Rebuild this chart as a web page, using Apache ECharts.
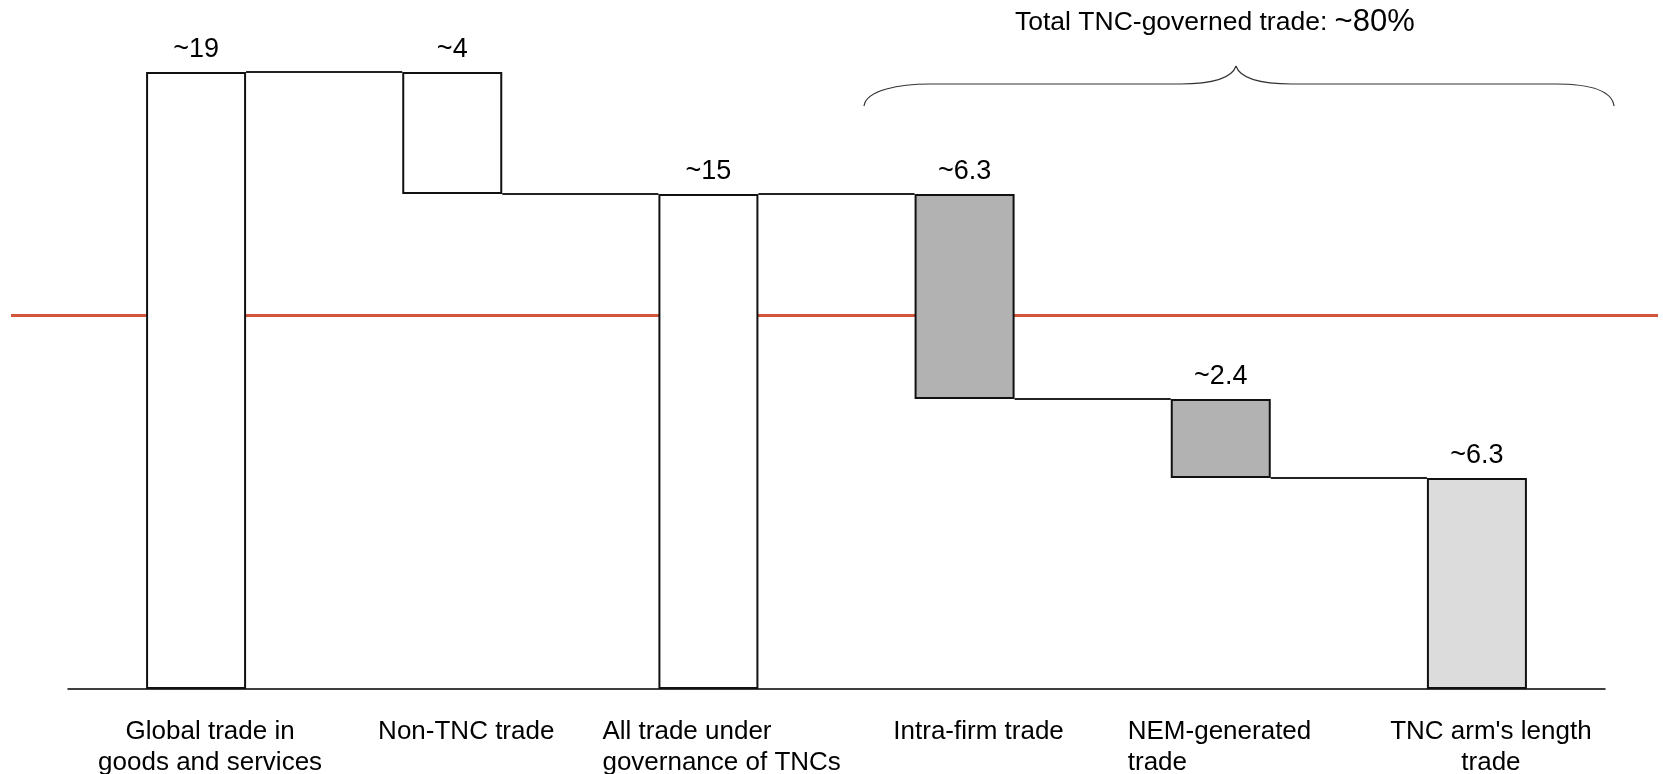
<!DOCTYPE html>
<html>
<head>
    <meta charset="UTF-8">
    <script src="https://cdn.jsdelivr.net/npm/echarts@6/dist/echarts.min.js"></script>
</head>
<style type="text/css">
    html, body { height: 100%; width: 100%; margin: 0; padding: 0; background: #fff; }
    #main { height: 100%; }
</style>
<body>
    <div id="main"></div>
</body>
<script>
    // categories and bar data (bar heights, labels as printed)
    var categories = ['Global trade in\ngoods and services', 'Non-TNC trade', 'All trade under\ngovernance of TNCs',
        'Intra-firm trade', 'NEM-generated\ntrade', "TNC arm's length\ntrade"];
    var barValues = [19, 3.76, 15.24, 6.31, 2.43, 6.5];
    var barBases = [0, 15.24, 0, 8.93, 6.5, 0];
    var barLabels = ['~19', '~4', '~15', '~6.3', '~2.4', '~6.3'];
    var barColors = ['#ffffff', '#ffffff', '#ffffff', '#b2b2b2', '#b2b2b2', '#dcdcdc'];
    var refLevel = 11.5;

    var myChart = echarts.init(document.getElementById('main'));
    var font = 'Liberation Sans, Arial, sans-serif';

    // connector from bar i to bar i+1 sits at the top of bar i+1
    var connectors = [];
    for (var i = 0; i < categories.length - 1; i++) {
        connectors.push([i, barBases[i + 1] + barValues[i + 1]]);
    }

    // two labels are left aligned inside a box, the others centred but sit a bit right of the bar
    var leftAligned = { 2: 212, 4: 186 };
    var braceStyle = { stroke: '#333', lineWidth: 1.2, fill: null };
    var txt = { fontSize: 26, lineHeight: 31, fontFamily: font, color: '#000' };

    var option = {
        animation: false,
        grid: { left: 68, right: 58, top: 72, bottom: 85, outerBoundsMode: 'none', containLabel: false },
        xAxis: {
            type: 'category',
            data: categories,
            axisLine: { lineStyle: { color: '#000', width: 1.5 } },
            axisTick: { show: false },
            axisLabel: {
                interval: 0,
                margin: 27,
                color: '#000',
                fontFamily: font,
                fontSize: 26,
                lineHeight: 31,
                formatter: function (v, idx) {
                    var key = leftAligned[idx] ? 'l' + idx : 'c';
                    return v.split('\n').map(function (s) { return '{' + key + '|' + s + '}'; }).join('\n');
                },
                rich: {
                    c: Object.assign({ padding: [0, 0, 0, 28] }, txt),
                    l2: Object.assign({ width: leftAligned[2], align: 'left' }, txt),
                    l4: Object.assign({ width: leftAligned[4], align: 'left' }, txt)
                }
            }
        },
        yAxis: { type: 'value', min: 0, max: 19, show: false },
        series: [
            {
                type: 'bar', stack: 'w', barWidth: 100,
                itemStyle: { color: 'transparent' },
                data: barBases
            },
            {
                type: 'bar', stack: 'w', barWidth: 100,
                data: barValues.map(function (v, i) {
                    return { value: v, itemStyle: { color: barColors[i] } };
                }),
                itemStyle: { borderColor: '#111', borderWidth: 2 },
                label: {
                    show: true, position: 'top', distance: 9,
                    color: '#000', fontFamily: font, fontSize: 27,
                    formatter: function (p) { return barLabels[p.dataIndex]; }
                },
                z: 3
            },
            {
                type: 'custom',
                data: connectors,
                z: 4,
                renderItem: function (params, api) {
                    var p0 = api.coord([api.value(0), api.value(1)]);
                    var p1 = api.coord([api.value(0) + 1, api.value(1)]);
                    var half = 50;
                    return {
                        type: 'line',
                        shape: { x1: p0[0] + half, y1: p0[1], x2: p1[0] - half, y2: p1[1] },
                        style: { stroke: '#222', lineWidth: 2 }
                    };
                }
            },
            {
                type: 'custom',
                data: [[0, refLevel]],
                z: 1,
                renderItem: function (params, api) {
                    var p = api.coord([0, api.value(1)]);
                    return {
                        type: 'line',
                        shape: { x1: 11, y1: p[1], x2: api.getWidth() - 5, y2: p[1] },
                        style: { stroke: '#d4533b', lineWidth: 3 }
                    };
                }
            }
        ],
        graphic: [
            { type: 'bezierCurve', shape: { x1: 864, y1: 106, cpx1: 866, cpy1: 90, cpx2: 900, cpy2: 84, x2: 930, y2: 84 }, style: braceStyle },
            { type: 'line', shape: { x1: 930, y1: 84, x2: 1180, y2: 84 }, style: braceStyle },
            { type: 'bezierCurve', shape: { x1: 1180, y1: 84, cpx1: 1215, cpy1: 84, cpx2: 1232, cpy2: 78, x2: 1236, y2: 66 }, style: braceStyle },
            { type: 'bezierCurve', shape: { x1: 1236, y1: 66, cpx1: 1240, cpy1: 78, cpx2: 1257, cpy2: 84, x2: 1292, y2: 84 }, style: braceStyle },
            { type: 'line', shape: { x1: 1292, y1: 84, x2: 1555, y2: 84 }, style: braceStyle },
            { type: 'bezierCurve', shape: { x1: 1555, y1: 84, cpx1: 1590, cpy1: 84, cpx2: 1612, cpy2: 90, x2: 1614, y2: 106 }, style: braceStyle },
            {
                type: 'text',
                left: 1015, top: 7,
                style: {
                    text: '{a|Total TNC-governed trade: }{b|~80%}',
                    rich: {
                        a: { fontSize: 26.5, fontFamily: font, fill: '#000' },
                        b: { fontSize: 31, fontFamily: font, fill: '#000' }
                    }
                }
            }
        ]
    };
    myChart.setOption(option);
    window.addEventListener('resize', function () { myChart.resize(); });
</script>
</html>
